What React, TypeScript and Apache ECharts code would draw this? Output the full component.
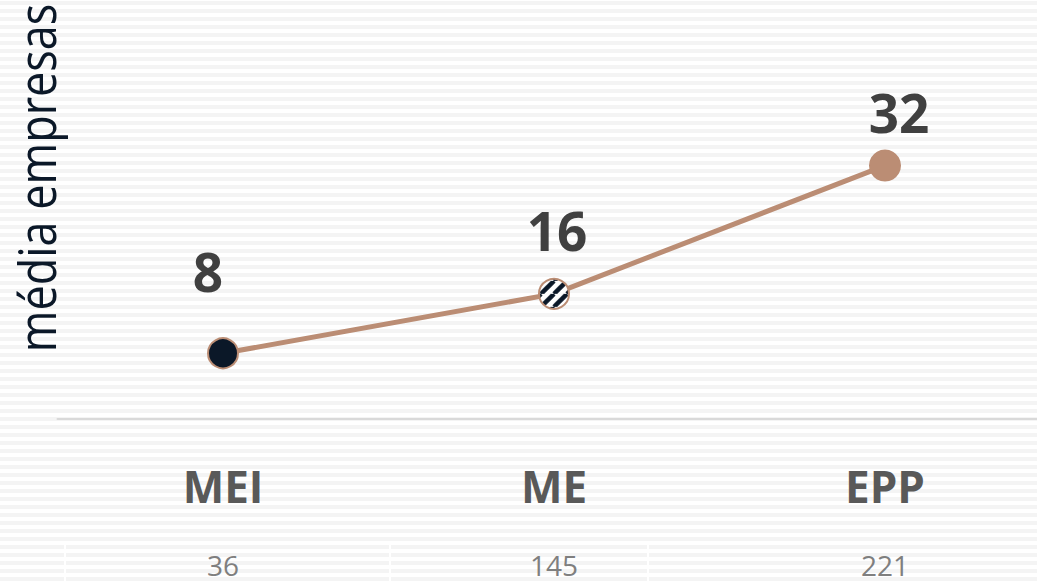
import React, { useEffect, useRef } from "react";
import * as echarts from "echarts";

const categories = ["MEI", "ME", "EPP"];
const mediaEmpresas = [8.3, 15.8, 32];
const totals = ["36", "145", "221"];
const yTitle = "média empresas";

const FONT = "'Open Sans', 'Noto Sans', sans-serif";
const TAN = "#bb8d74";
const NAVY = "#0b1828";

function stripeImage(s: number): string {
  const c = document.createElement("canvas");
  c.width = s;
  c.height = s;
  const ctx = c.getContext("2d")!;
  ctx.fillStyle = "#ffffff";
  ctx.fillRect(0, 0, s, s);
  ctx.strokeStyle = NAVY;
  ctx.lineWidth = 4.5;
  ctx.beginPath();
  for (const o of [-s, 0, s]) {
    ctx.moveTo(o, s);
    ctx.lineTo(o + s, 0);
  }
  ctx.stroke();
  return c.toDataURL();
}

export default function App() {
  const ref = useRef<HTMLDivElement>(null);

  useEffect(() => {
    if (!ref.current) return;
    const chart = echarts.init(ref.current, undefined, { renderer: "svg" });
    const tile = 13;
    const symbolSizes = [30, 30, 32];
    const patScale = 2 / symbolSizes[1];
    const pattern = {
      image: stripeImage(tile),
      repeat: "repeat",
      imageWidth: tile,
      imageHeight: tile,
      scaleX: patScale,
      scaleY: patScale,
    };
    const pointStyles = [
      { color: NAVY, borderColor: TAN, borderWidth: 2 },
      { color: pattern, borderColor: TAN, borderWidth: 2 },
      { color: TAN, borderColor: TAN, borderWidth: 0 },
    ];
    const labelOffsets = [
      [-15, -34],
      [3, -16],
      [14, -6],
    ];

    const option: any = {
      animation: false,
      backgroundColor: "transparent",
      grid: {
        left: 57.5,
        top: 23,
        width: 993,
        bottom: 164,
        containLabel: false,
        outerBoundsMode: "none",
      },
      xAxis: [
        {
          type: "category",
          data: categories,
          boundaryGap: true,
          axisLine: { show: true, lineStyle: { color: "#d9d9d9", width: 2 } },
          axisTick: { show: false },
          splitLine: { show: false },
          axisLabel: {
            margin: 45,
            fontSize: 44,
            fontWeight: "bold",
            color: "#595959",
            fontFamily: FONT,
          },
        },
        {
          type: "category",
          data: totals,
          position: "bottom",
          offset: 120,
          boundaryGap: true,
          axisLine: { show: false },
          axisTick: { show: false },
          splitLine: { show: false },
          axisLabel: {
            margin: 12,
            fontSize: 28,
            color: "#7f7f7f",
            fontFamily: FONT,
          },
        },
      ],
      yAxis: {
        type: "value",
        min: 0,
        max: 50,
        show: false,
        splitLine: { show: false },
      },
      graphic: [
        {
          type: "text",
          x: 36,
          y: 178,
          rotation: Math.PI / 2,
          scaleY: 1.15,
          style: {
            text: yTitle,
            fontSize: 45,
            fontFamily: FONT,
            fill: NAVY,
            align: "center",
            verticalAlign: "middle",
          },
        },
        ...[65, 390, 648].map((x) => ({
          type: "line",
          shape: { x1: x, y1: 545, x2: x, y2: 583 },
          style: { stroke: "#ffffff", lineWidth: 2 },
          silent: true,
        })),
      ],
      series: [
        {
          type: "line",
          xAxisIndex: 0,
          data: mediaEmpresas.map((v, i) => ({
            value: v,
            symbolSize: symbolSizes[i],
            itemStyle: pointStyles[i],
            label: { offset: labelOffsets[i] },
          })),
          symbol: "circle",
          lineStyle: { color: TAN, width: 5 },
          label: {
            show: true,
            position: "top",
            distance: 5,
            fontSize: 53,
            fontWeight: "bold",
            color: "#404040",
            fontFamily: FONT,
            formatter: (p: any) => String(Math.round(p.value)),
          },
          z: 3,
        },
      ],
    };
    chart.setOption(option);
    return () => chart.dispose();
  }, []);

  return (
    <div
      style={{
        position: "fixed",
        left: 0,
        top: 0,
        width: 1037,
        height: 583,
        background:
          "repeating-linear-gradient(to bottom, #ffffff 0px, #ffffff 1px, #f4f4f4 1px, #f4f4f4 5px, #ffffff 5px, #ffffff 8px)",
      }}
    >
      <div ref={ref} style={{ width: 1037, height: 583 }} />
    </div>
  );
}
